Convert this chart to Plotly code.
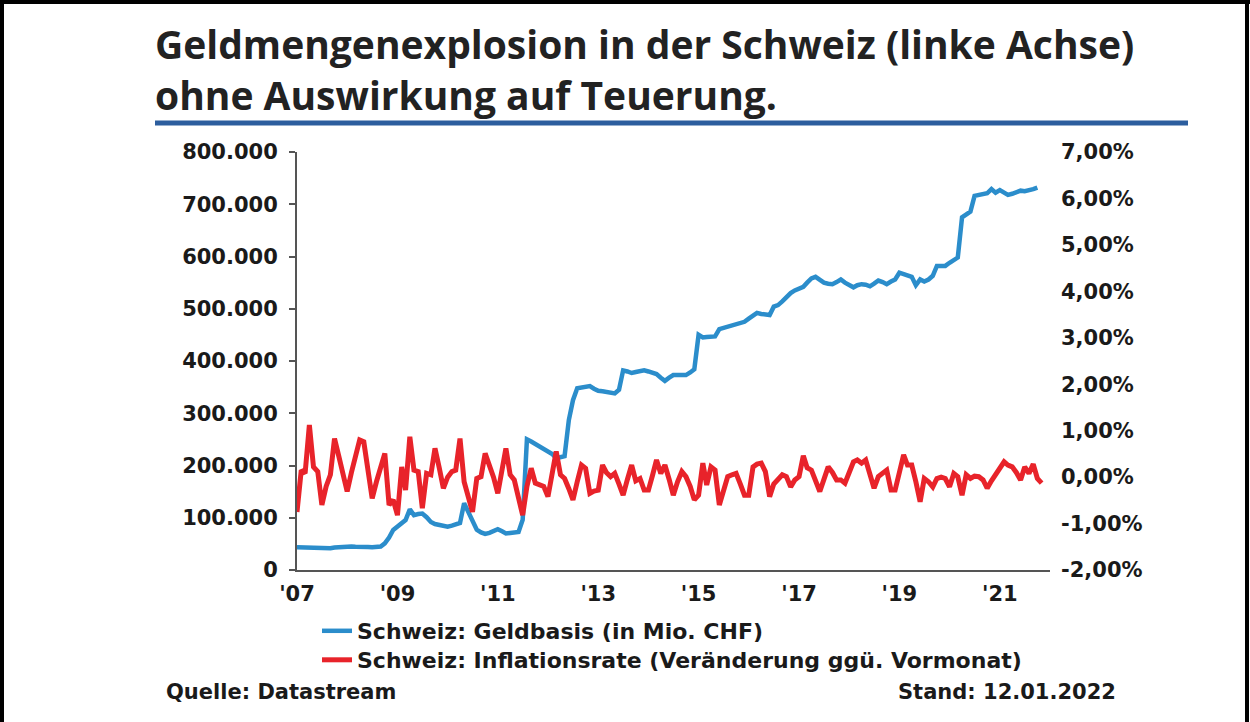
import plotly.graph_objects as go
import pandas as pd

# ---------------- data ----------------
# Schweiz: Geldbasis (in Mio. CHF), monthly from Jan 2007 (values in thousands)
geldbasis = [
    43.4, 43, 43, 43.5, 43, 43, 42.5, 42, 41.5, 43, 43.5, 44,          # 2007
    45.9, 45, 44.5, 45, 44.5, 44, 43.5, 43.4, 45, 51, 62, 76.6,        # 2008
    84, 90, 95.7, 116, 105, 107, 108, 101, 92, 88, 86, 84,             # 2009
    83, 85, 87, 90, 128, 112, 95, 77, 72, 69, 71, 75,                  # 2010
    78, 74, 70, 71, 72, 73, 96, 250, 246, 241, 237, 233,               # 2011
    228, 222, 214, 216, 218, 287, 325, 348, 349, 350, 352, 347,        # 2012
    343, 342, 341, 340, 338, 345, 382, 380, 377, 379, 381, 382,        # 2013
    380, 378, 375, 368, 362, 368, 373, 373, 374, 373, 378, 384,        # 2014
    450, 445, 446, 446, 447, 461, 463, 466, 467, 469, 472, 475,        # 2015
    481, 487, 492, 490, 488, 488, 504, 507, 514, 522, 530, 535,        # 2016
    539, 542, 550, 558, 561, 556, 550, 548, 547, 551, 556, 550,        # 2017
    545, 541, 545, 547, 546, 543, 548, 554, 551, 547, 552, 556,        # 2018
    569, 566, 563, 561, 545, 556, 552, 556, 563, 582, 582, 582,        # 2019
    588, 593, 598, 675, 680, 686, 716, 718, 719, 721, 729, 722,        # 2020
    727, 722, 718, 720, 722, 726, 725, 726, 729, 732,                  # 2021
]
geldbasis = [v * 1000 for v in geldbasis]

# Schweiz: Inflationsrate (Veränderung ggü. Vormonat), in %
inflation = [
    -0.75, 0.15, 0.08, 1.12, 0.22, 0.12, -0.6, -0.2, 0.05, 0.83, 0.45, 0.1,      # 2007
    -0.31, 0.1, 0.45, 0.8, 0.76, 0.15, -0.46, -0.1, 0.2, 0.51, -0.6, -0.49,      # 2008
    -0.82, 0.22, -0.28, 0.87, 0.15, 0.12, -0.67, 0.08, 0.05, 0.62, 0.2, -0.24,   # 2009
    0.0, 0.12, 0.15, 0.83, -0.1, -0.45, -0.75, -0.03, 0.01, 0.51, 0.25, 0.0,     # 2010
    -0.35, 0.1, 0.62, 0.05, -0.06, -0.45, -0.82, -0.2, 0.19, -0.13, -0.17, -0.2, # 2011
    -0.42, 0.05, 0.55, 0.05, -0.03, -0.25, -0.49, -0.1, 0.26, 0.19, -0.35, -0.3, # 2012
    -0.28, 0.26, 0.1, 0.01, 0.08, -0.15, -0.39, -0.05, 0.26, -0.08, -0.03, -0.28,# 2013
    -0.28, 0.05, 0.37, 0.08, 0.26, -0.05, -0.39, -0.1, 0.12, 0.01, -0.2, -0.49,  # 2014
    -0.39, 0.3, -0.17, 0.22, 0.15, -0.6, -0.25, 0.01, 0.05, 0.08, -0.15, -0.39,  # 2015
    -0.39, 0.22, 0.28, 0.3, 0.12, -0.42, -0.15, -0.05, 0.05, 0.01, -0.21, -0.06, # 2016
    0.01, 0.46, 0.2, 0.15, -0.05, -0.31, -0.05, 0.22, 0.1, -0.06, -0.06, -0.13,  # 2017
    0.1, 0.33, 0.37, 0.3, 0.37, 0.05, -0.24, 0.01, 0.1, 0.15, -0.28, -0.28,      # 2018
    0.1, 0.48, 0.26, 0.26, -0.1, -0.53, -0.03, -0.1, -0.21, -0.03, 0.0, -0.03,   # 2019
    -0.21, 0.08, 0.01, -0.39, 0.05, -0.03, 0.02, 0.01, -0.06, -0.24, -0.08, 0.05,# 2020
    0.2, 0.33, 0.26, 0.22, 0.1, -0.06, 0.22, 0.08, 0.28, -0.03, -0.13,           # 2021
]

months_blue = pd.date_range("2007-01-01", periods=len(geldbasis), freq="MS")
months_red = pd.date_range("2007-01-01", periods=len(inflation), freq="MS")

x_tickvals = ["2007-01-01", "2009-01-01", "2011-01-01", "2013-01-01",
              "2015-01-01", "2017-01-01", "2019-01-01", "2021-01-01"]
x_ticktext = ["'07", "'09", "'11", "'13", "'15", "'17", "'19", "'21"]

left_tickvals = [0, 100000, 200000, 300000, 400000, 500000, 600000, 700000, 800000]
left_ticktext = ["0", "100.000", "200.000", "300.000", "400.000",
                 "500.000", "600.000", "700.000", "800.000"]
right_tickvals = [-2, -1, 0, 1, 2, 3, 4, 5, 6, 7]
right_ticktext = ["-2,00%", "-1,00%", "0,00%", "1,00%", "2,00%",
                  "3,00%", "4,00%", "5,00%", "6,00%", "7,00%"]

title_lines = ["Geldmengenexplosion in der Schweiz (linke Achse)",
               "ohne Auswirkung auf Teuerung."]
name_blue = "Schweiz: Geldbasis (in Mio. CHF)"
name_red = "Schweiz: Inflationsrate (Veränderung ggü. Vormonat)"
source_text = "Quelle: Datastream"
date_text = "Stand: 12.01.2022"

# ---------------- layout geometry ----------------
W, H = 1250, 722
L, R, T, B = 297, 1050, 152, 570   # plot area in pixels


def px(xp):
    return (xp - L) / (R - L)


def py(yp):
    return (B - yp) / (B - T)


BLUE = "#2b8dcb"
RED = "#e8232a"
TXT = "#1a1a1a"
TICKFONT = dict(family="DejaVu Sans", size=21, color=TXT, weight="bold")
LEGFONT = dict(family="DejaVu Sans", size=22, color=TXT, weight="bold")

fig = go.Figure()
fig.add_trace(go.Scatter(x=months_blue, y=geldbasis, name=name_blue, mode="lines",
                         line=dict(color=BLUE, width=4.5), yaxis="y", legend="legend"))
fig.add_trace(go.Scatter(x=months_red, y=inflation, name=name_red, mode="lines",
                         line=dict(color=RED, width=5), yaxis="y2", legend="legend2"))

fig.update_layout(
    width=W, height=H, autosize=False,
    margin=dict(l=L, r=W - R, t=T, b=H - B, pad=0),
    paper_bgcolor="white", plot_bgcolor="white",
    showlegend=True,
    legend=dict(x=px(317), y=py(631), xanchor="left", yanchor="middle",
                bgcolor="rgba(0,0,0,0)", borderwidth=0, font=LEGFONT,
                itemwidth=30),
    legend2=dict(x=px(317), y=py(660), xanchor="left", yanchor="middle",
                 bgcolor="rgba(0,0,0,0)", borderwidth=0, font=LEGFONT,
                 itemwidth=30),
    xaxis=dict(type="date", range=["2007-01-01", "2022-01-01"],
               tickvals=x_tickvals, ticktext=x_ticktext,
               showgrid=False, zeroline=False, showline=True,
               linecolor="#555555", linewidth=2, ticks="",
               tickfont=TICKFONT, ticklabelstandoff=4),
    yaxis=dict(range=[0, 800000], tickvals=left_tickvals, ticktext=left_ticktext,
               showgrid=False, zeroline=False, showline=True,
               linecolor="#555555", linewidth=2, ticks="outside", ticklen=6,
               tickcolor="#555555", tickwidth=2,
               tickfont=TICKFONT, ticklabelstandoff=7),
    yaxis2=dict(range=[-2, 7], tickvals=right_tickvals, ticktext=right_ticktext,
                overlaying="y", side="right", anchor="x",
                showgrid=False, zeroline=False, showline=False, ticks="",
                tickfont=TICKFONT, ticklabelstandoff=10),
    shapes=[
        # blue rule below the title
        dict(type="line", xref="paper", yref="paper",
             x0=px(155), x1=px(1188), y0=py(123), y1=py(123),
             line=dict(color="#2c5e9e", width=5)),
        # frame (top, left, right)
        dict(type="line", xref="paper", yref="paper",
             x0=px(0), x1=px(W), y0=py(2), y1=py(2), line=dict(color="black", width=4)),
        dict(type="line", xref="paper", yref="paper",
             x0=px(2), x1=px(2), y0=py(0), y1=py(H), line=dict(color="black", width=4)),
        dict(type="line", xref="paper", yref="paper",
             x0=px(W - 3), x1=px(W - 3), y0=py(0), y1=py(H), line=dict(color="black", width=4)),
    ],
    annotations=[
        dict(text="<br>".join(title_lines), xref="paper", yref="paper",
             x=px(153), y=py(69), xanchor="left", yanchor="middle", align="left",
             showarrow=False,
             font=dict(family="Open Sans", size=39, color="#222222", weight="bold")),
        dict(text=source_text, xref="paper", yref="paper", x=px(164), y=py(692),
             xanchor="left", yanchor="middle", showarrow=False,
             font=dict(family="DejaVu Sans", size=21, color=TXT, weight="bold")),
        dict(text=date_text, xref="paper", yref="paper", x=px(1118), y=py(692),
             xanchor="right", yanchor="middle", showarrow=False,
             font=dict(family="DejaVu Sans", size=21, color=TXT, weight="bold")),
    ],
)

fig.write_html("out.html", config={"displayModeBar": False},
               post_script="document.body.style.margin='0px';")
